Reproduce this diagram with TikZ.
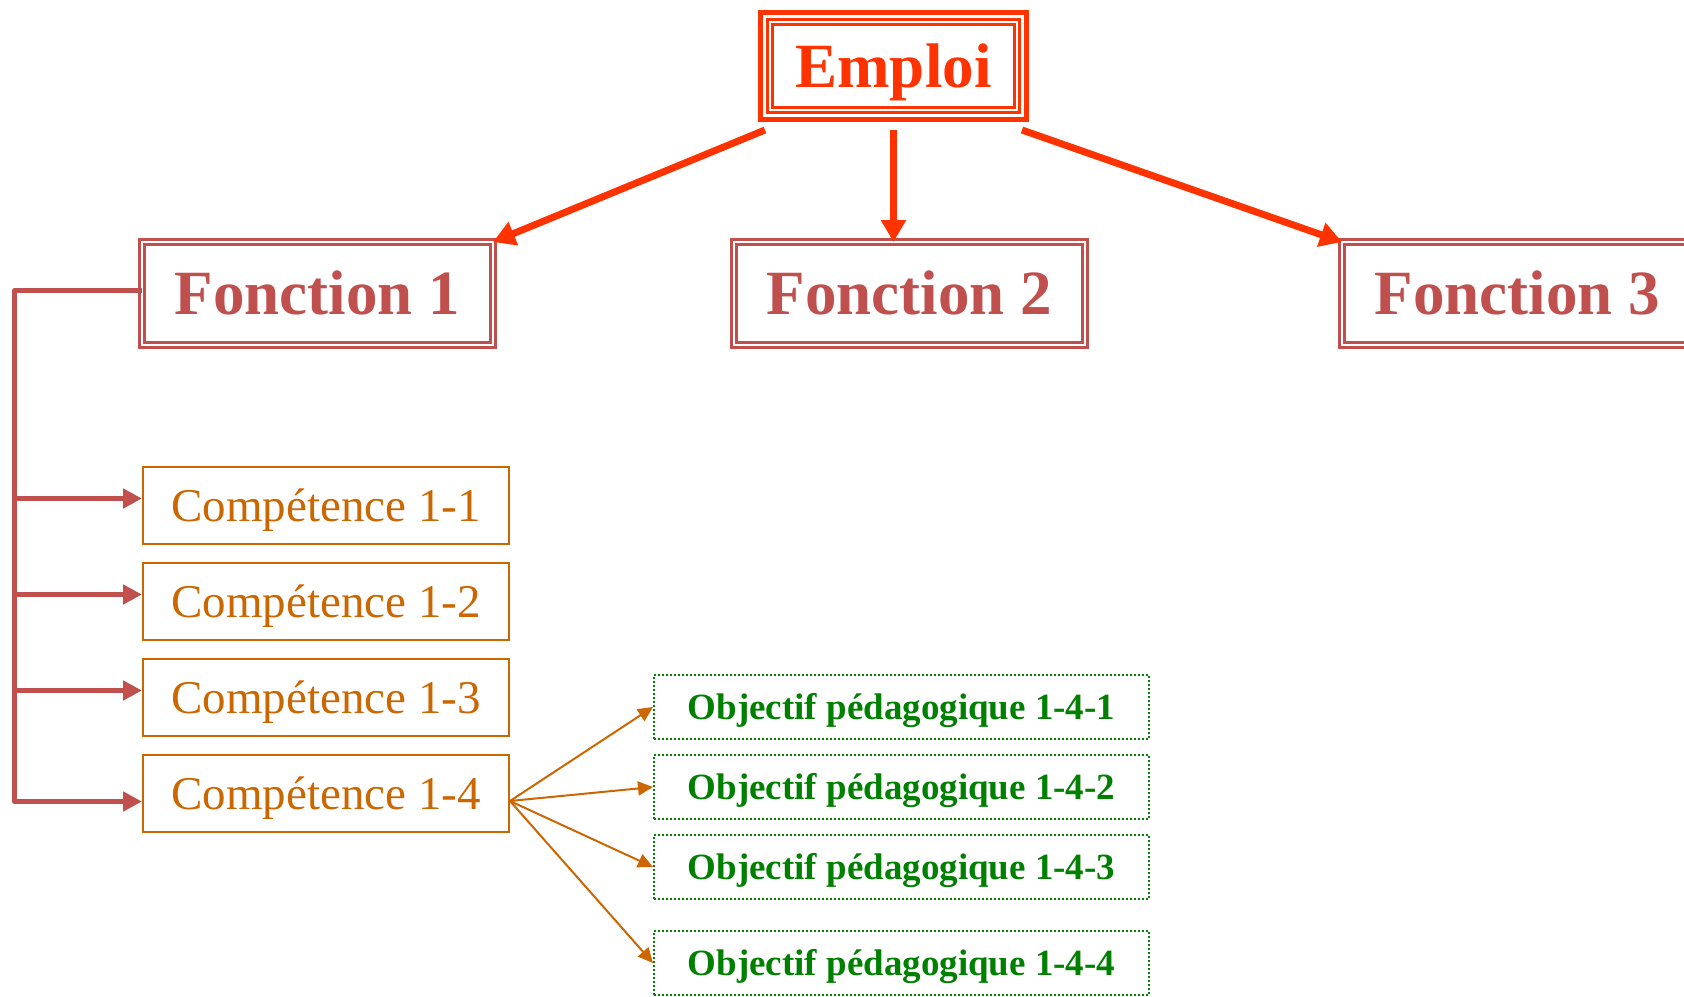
\documentclass[tikz,border=0pt]{standalone}
\usepackage{fontspec}
\setmainfont{Liberation Serif}
\usepackage{xcolor}
\usepackage{tikz}
\usetikzlibrary{arrows.meta,positioning}

\definecolor{emploired}{HTML}{FF3300}
\definecolor{fonctionred}{HTML}{C0504D}
\definecolor{compbrown}{HTML}{CC6600}
\definecolor{objgreen}{HTML}{008000}

\begin{document}
\begin{tikzpicture}[x=1pt,y=-1pt,
    emploibox/.style={draw=emploired,line width=3pt,double=white,double distance=2pt,outer sep=0pt,
        minimum width=247pt,minimum height=88pt,text height=42pt,text depth=0pt,
        text=emploired,font=\fontsize{63}{70}\selectfont\bfseries},
    fonctionbox/.style={draw=fonctionred,line width=2.5pt,double=white,double distance=2.5pt,outer sep=0pt,
        minimum width=351pt,minimum height=103pt,text height=42pt,text depth=0pt,
        text=fonctionred,font=\fontsize{63}{70}\selectfont\bfseries},
    compbox/.style={draw=compbrown,line width=2pt,minimum width=366pt,minimum height=77pt,
        text height=31pt,text depth=0pt,text=compbrown,font=\fontsize{47}{54}\selectfont},
    objbox/.style={draw=objgreen,line width=2pt,dash pattern=on 2pt off 2pt,minimum width=495pt,minimum height=64pt,
        text height=25pt,text depth=0pt,text=objgreen,font=\fontsize{37}{44}\selectfont\bfseries},
    mainarrow/.style={draw=emploired,line width=7pt,-{Triangle[length=22pt,width=24pt]}},
    brancharrow/.style={draw=fonctionred,line width=5pt,line join=round,-{Triangle[length=19pt,width=19pt]}},
    objarrow/.style={draw=compbrown,line width=2pt,-{Triangle[length=15pt,width=14pt]}}]
    \useasboundingbox (0,0) rectangle (1684,996);

    \node[emploibox,name=emploi] at (893.5,66) {Emploi};
    \draw[emploired,line width=5pt] ([shift={(-9.5pt,9.5pt)}]emploi.north west) rectangle ([shift={(9.5pt,-9.5pt)}]emploi.south east);

    \node[fonctionbox,name=f1] at (317.5,293.5) {Fonction 1};
    \node[fonctionbox,name=f2] at (909.5,293.5) {Fonction 2};
    \node[fonctionbox,name=f3] at (1517.5,293.5) {Fonction 3};

    \node[compbox,name=c1] at (326,505.5) {Compétence 1-1};
    \node[compbox,name=c2, below=17pt of c1] {Compétence 1-2};
    \node[compbox,name=c3, below=17pt of c2] {Compétence 1-3};
    \node[compbox,name=c4, below=17pt of c3] {Compétence 1-4};

    \node[objbox,name=o1] at (901.5,707) {Objectif pédagogique 1-4-1};
    \node[objbox,name=o2, below=14pt of o1] {Objectif pédagogique 1-4-2};
    \node[objbox,name=o3, below=14pt of o2] {Objectif pédagogique 1-4-3};
    \node[objbox,name=o4, below=30pt of o3] {Objectif pédagogique 1-4-4};

    \draw[mainarrow] ([shift={(-5pt,-20pt)}]emploi.south west) -- (f1.north east);
    \draw[mainarrow] ([yshift=-20pt]emploi.south) -- (emploi.south |- f2.north);
    \draw[mainarrow] ([shift={(5pt,-20pt)}]emploi.south east) -- (f3.north west);

    \coordinate (spine) at (14.5,0);
    \coordinate (c4in) at ([yshift=-8pt]c4.west);
    \draw[brancharrow] ([yshift=3pt]f1.west) -| (spine |- c4in) -- (c4in);
    \foreach \i in {1,2,3}
        \draw[brancharrow] (spine |- c\i.west) ++(0,-7) -- ([yshift=7pt]c\i.west);

    \coordinate (hub) at ([yshift=-7.5pt]c4.east);
    \foreach \i in {1,...,4}
        \draw[objarrow] (hub) -- (o\i.west);
\end{tikzpicture}
\end{document}
